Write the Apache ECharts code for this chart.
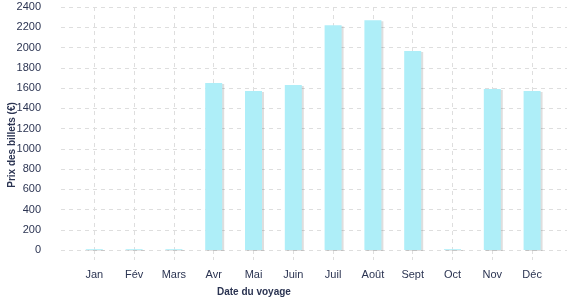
<!DOCTYPE html>
<html>
<head>
<meta charset="utf-8">
<script src="https://cdn.jsdelivr.net/npm/echarts@6/dist/echarts.min.js"></script>
<style>
html,body{margin:0;padding:0;background:#fff;}
#chart{width:577px;height:300px;}
</style>
</head>
<body>
<div id="chart"></div>
<script>
const months = ['Jan', 'Fév', 'Mars', 'Avr', 'Mai', 'Juin', 'Juil', 'Août', 'Sept', 'Oct', 'Nov', 'Déc'];
const prices = [8, 8, 8, 1650, 1570, 1630, 2220, 2270, 1965, 8, 1590, 1570];
const yTicks = [0, 200, 400, 600, 800, 1000, 1200, 1400, 1600, 1800, 2000, 2200, 2400];
const xTitle = 'Date du voyage';
const yTitle = 'Prix des billets (€)';

const textColor = '#2b3452';
const font = 'Liberation Sans, Arial, sans-serif';
const gridLine = {show: true, lineStyle: {color: '#dedede', type: [4, 4], width: 1}};

const chart = echarts.init(document.getElementById('chart'), null, {renderer: 'canvas'});
chart.setOption({
  animation: false,
  backgroundColor: '#fff',
  grid: [
    {left: 61, right: 10, top: 7, bottom: 50},
    {left: 74.4, right: 25, top: 7, bottom: 50}
  ],
  xAxis: [
    {gridIndex: 0, type: 'value', show: false, min: 0, max: 1},
    {
      gridIndex: 1, type: 'category', data: months,
      axisLine: {show: false},
      axisTick: {show: true, alignWithLabel: true, length: 10, lineStyle: {color: '#dedede', type: [4, 3]}},
      axisLabel: {color: textColor, fontFamily: font, fontSize: 11, margin: 19},
      splitLine: Object.assign({alignWithLabel: true}, gridLine)
    }
  ],
  yAxis: [
    {
      gridIndex: 0, type: 'value', min: yTicks[0], max: yTicks[yTicks.length - 1], interval: 200,
      axisLine: {show: false}, axisTick: {show: false},
      axisLabel: {color: textColor, fontFamily: font, fontSize: 11, margin: 20, formatter: v => String(v)},
      splitLine: gridLine
    },
    {gridIndex: 1, type: 'value', show: false, min: yTicks[0], max: yTicks[yTicks.length - 1], splitLine: {show: false}}
  ],
  series: [{
    type: 'bar',
    xAxisIndex: 1, yAxisIndex: 1,
    data: prices,
    barWidth: 17,
    itemStyle: {
      color: '#aeeef8',
      shadowColor: 'rgba(0,0,0,0.13)',
      shadowOffsetX: 2, shadowOffsetY: 1, shadowBlur: 0
    }
  }],
  graphic: [
    {
      type: 'text', left: 217, top: 287,
      style: {text: xTitle, fill: textColor, font: 'bold 10px ' + font}
    },
    {
      type: 'text', x: 12, y: 145, rotation: Math.PI / 2,
      style: {text: yTitle, fill: textColor, font: 'bold 10px ' + font, align: 'center', verticalAlign: 'middle'}
    }
  ]
});
</script>
</body>
</html>
